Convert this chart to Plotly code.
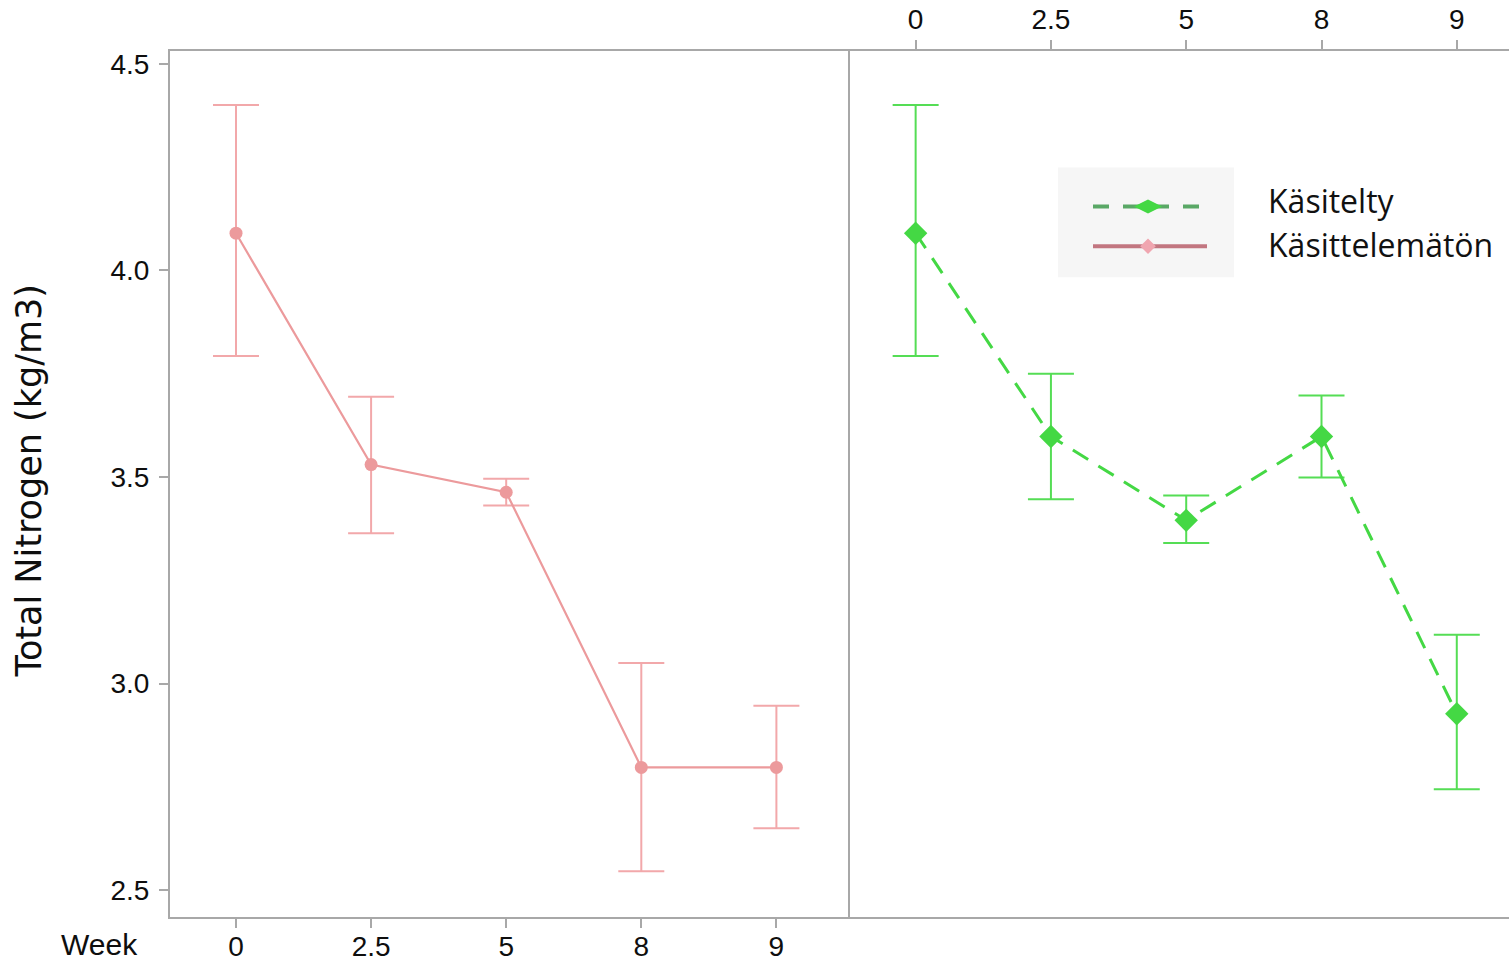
import plotly.graph_objects as go

# ---------------- data ----------------
weeks = ["0", "2.5", "5", "8", "9"]

# Käsittelemätön (untreated) - left panel
untreated_mean = [4.09, 3.53, 3.463, 2.797, 2.797]
untreated_upper = [4.40, 3.694, 3.496, 3.050, 2.946]
untreated_lower = [3.793, 3.364, 3.431, 2.546, 2.650]

# Käsitelty (treated) - right panel
treated_mean = [4.09, 3.598, 3.395, 3.598, 2.927]
treated_upper = [4.40, 3.750, 3.455, 3.697, 3.118]
treated_lower = [3.793, 3.446, 3.340, 3.499, 2.744]

y_ticks = [2.5, 3.0, 3.5, 4.0, 4.5]
legend_labels = ["Käsitelty", "Käsittelemätön"]

# ---------------- layout geometry (screen pixels) ----------------
W, H = 1509, 962
PL, PR, PT, PB = 170, 1509, 51, 920
L, T = PL, PT
R, B = W - PR, H - PB
PW, PH = PR - PL, PB - PT


def fx(x):
    return (x - PL) / PW


def fy(y):
    return (PB - y) / PH


PINK = "#ec9a9c"
PINK_ERR = "#f2a8aa"
GREEN = "#44d844"
GREEN_ERR = "#55dd55"
AXIS = "#a8a8a8"
TXT = "#0e0e0e"
TICKFONT = dict(family="Liberation Sans", size=28, color=TXT)

fig = go.Figure()

fig.add_trace(go.Scatter(
    x=weeks, y=untreated_mean, mode="lines+markers",
    line=dict(color=PINK, width=2.2),
    marker=dict(color=PINK, size=13, symbol="circle"),
    error_y=dict(type="data", symmetric=False,
                 array=[u - m for u, m in zip(untreated_upper, untreated_mean)],
                 arrayminus=[m - l for m, l in zip(untreated_mean, untreated_lower)],
                 color=PINK_ERR, thickness=2, width=23),
    xaxis="x", yaxis="y", showlegend=False,
))

fig.add_trace(go.Scatter(
    x=weeks, y=treated_mean, mode="lines+markers",
    line=dict(color=GREEN, width=3, dash="18px,12px"),
    marker=dict(color=GREEN, size=18, symbol="diamond"),
    error_y=dict(type="data", symmetric=False,
                 array=[u - m for u, m in zip(treated_upper, treated_mean)],
                 arrayminus=[m - l for m, l in zip(treated_mean, treated_lower)],
                 color=GREEN_ERR, thickness=2, width=23),
    xaxis="x2", yaxis="y2", showlegend=False,
))

# ---- legend glyphs (drawn on an overlay axis in screen-pixel units) ----
fig.add_trace(go.Scatter(
    x=[1093, 1207], y=[207, 207], mode="lines",
    line=dict(color="#5aa866", width=4, dash="16px,14px"),
    xaxis="x3", yaxis="y3", showlegend=False, hoverinfo="skip",
))
fig.add_trace(go.Scatter(
    x=[1148], y=[207], mode="markers",
    marker=dict(color=GREEN, size=20, symbol="diamond-wide"),
    xaxis="x3", yaxis="y3", showlegend=False, hoverinfo="skip",
))
fig.add_trace(go.Scatter(
    x=[1093, 1207], y=[247, 247], mode="lines",
    line=dict(color="#c27680", width=4),
    xaxis="x3", yaxis="y3", showlegend=False, hoverinfo="skip",
))
fig.add_trace(go.Scatter(
    x=[1148], y=[247], mode="markers",
    marker=dict(color="#f0a6b0", size=12, symbol="diamond"),
    xaxis="x3", yaxis="y3", showlegend=False, hoverinfo="skip",
))

split = fx(848)

axis_common = dict(
    type="category", showline=True, linecolor=AXIS, linewidth=2,
    ticks="outside", ticklen=9, tickwidth=2, tickcolor=AXIS,
    showgrid=False, zeroline=False, tickfont=TICKFONT,
    mirror=True,
)

fig.update_layout(
    width=W, height=H,
    margin=dict(l=L, r=R, t=T, b=B, pad=0),
    paper_bgcolor="white", plot_bgcolor="rgba(0,0,0,0)",
    xaxis=dict(domain=[0, split], range=[-0.4885, 4.53],
               anchor="y", ticklabelstandoff=-6, **axis_common),
    xaxis2=dict(domain=[split, 1], range=[-0.50, 4.386],
                anchor="y2", side="top", **axis_common),
    yaxis=dict(domain=[0, 1], range=[2.435, 4.531], anchor="x",
               tickvals=y_ticks, ticktext=[f"{v:.1f}" for v in y_ticks],
               showline=True, linecolor=AXIS, linewidth=2, mirror=True,
               ticks="outside", ticklen=9, tickwidth=2, tickcolor=AXIS,
               showgrid=False, zeroline=False, tickfont=TICKFONT,
               ticklabelstandoff=4),
    yaxis2=dict(domain=[0, 1], range=[2.435, 4.531], anchor="x2",
                matches="y", showticklabels=False, showline=False,
                ticks="", showgrid=False, zeroline=False),
    xaxis3=dict(domain=[0, 1], range=[PL, PR], anchor="y3",
                visible=False, fixedrange=True),
    yaxis3=dict(domain=[0, 1], range=[PB, PT], anchor="x3",
                visible=False, fixedrange=True),
    shapes=[
        dict(type="rect", xref="paper", yref="paper",
             x0=fx(1058), x1=fx(1234), y0=fy(168), y1=fy(278),
             fillcolor="#f6f6f6", line=dict(width=0), layer="below"),
    ],
    annotations=[
        dict(text="Total Nitrogen (kg/m3)", xref="paper", yref="paper",
             x=fx(29), y=fy(482), textangle=-90, showarrow=False,
             xanchor="center", yanchor="middle",
             font=dict(family="DejaVu Sans", size=35, color=TXT)),
        dict(text="Week", xref="paper", yref="paper",
             x=fx(99), y=fy(948), showarrow=False,
             xanchor="center", yanchor="middle",
             font=dict(family="Liberation Sans", size=30, color=TXT)),
        dict(text=legend_labels[0], xref="paper", yref="paper",
             x=fx(1266), y=fy(201), showarrow=False,
             xanchor="left", yanchor="middle",
             font=dict(family="Open Sans", size=32, color="#111111")),
        dict(text=legend_labels[1], xref="paper", yref="paper",
             x=fx(1266), y=fy(245), showarrow=False,
             xanchor="left", yanchor="middle",
             font=dict(family="Open Sans", size=32, color="#111111")),
    ],
)

fig.write_html(
    "out.html",
    config={"displayModeBar": False},
    post_script="document.body.style.margin='0';"
                "document.body.style.overflow='hidden';",
)
